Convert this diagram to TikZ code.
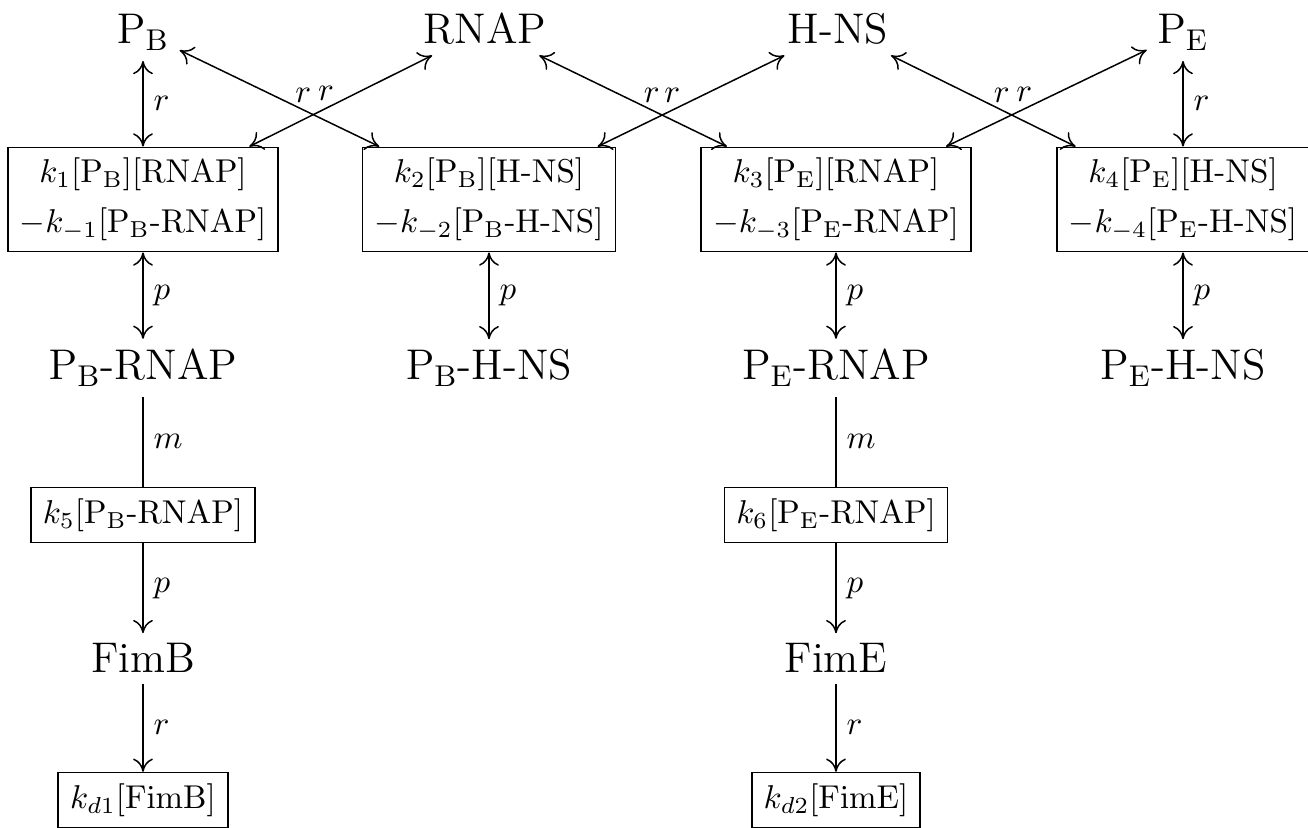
\RequirePackage{fix-cm}
\documentclass[tikz,border=0pt]{standalone}
\usetikzlibrary{arrows.meta}
\begin{document}
\begin{tikzpicture}[x=0.303pt,y=-0.303pt,
  >={Computer Modern Rightarrow[length=4pt,width=6pt]},
  big/.style={font=\fontsize{13}{15}\selectfont, inner sep=3pt, anchor=base},
  rate/.style={draw, line width=0.5pt, inner xsep=3.6pt, inner ysep=3.3pt, align=center},
  ratetwo/.style={rate, minimum height=30pt},
  conn/.style={line width=0.45pt},
  lab/.style={inner sep=3pt},
  xlab/.style={above, inner sep=2pt}
]
\useasboundingbox (0,0) rectangle (1308,828);

% top row
\node[big] (PB)   at (143,44)  {$\mathrm{P_B}$};
\node[big] (RNAP) at (485,44)  {RNAP};
\node[big] (HNS)  at (838,44)  {H-NS};
\node[big] (PE)   at (1183,44) {$\mathrm{P_E}$};

% rate boxes
\node[ratetwo] (b1) at (143,199.5) {$k_1[\mathrm{P_B}][\mathrm{RNAP}]$\\[3pt]$-k_{-1}[\mathrm{P_B}\mbox{-}\mathrm{RNAP}]$};
\node[ratetwo] (b2) at (489,199.5) {$k_2[\mathrm{P_B}][\mbox{H-NS}]$\\[3pt]$-k_{-2}[\mathrm{P_B}\mbox{-H-NS}]$};
\node[ratetwo] (b3) at (836,199.5) {$k_3[\mathrm{P_E}][\mathrm{RNAP}]$\\[3pt]$-k_{-3}[\mathrm{P_E}\mbox{-}\mathrm{RNAP}]$};
\node[ratetwo] (b4) at (1183,199.5) {$k_4[\mathrm{P_E}][\mbox{H-NS}]$\\[3pt]$-k_{-4}[\mathrm{P_E}\mbox{-H-NS}]$};

% complexes
\node[big] (PBR) at (143,380)  {$\mathrm{P_B}$-RNAP};
\node[big] (PBH) at (489,380)  {$\mathrm{P_B}$-H-NS};
\node[big] (PER) at (836,380)  {$\mathrm{P_E}$-RNAP};
\node[big] (PEH) at (1183,380) {$\mathrm{P_E}$-H-NS};

% production
\node[rate] (k5) at (143,515) {$k_5[\mathrm{P_B}\mbox{-}\mathrm{RNAP}]$};
\node[rate] (k6) at (836,515) {$k_6[\mathrm{P_E}\mbox{-}\mathrm{RNAP}]$};
\node[big] (FimB) at (143,673) {FimB};
\node[big] (FimE) at (836,673) {FimE};
\node[rate] (kd1) at (143,800) {$k_{d1}[\mathrm{FimB}]$};
\node[rate] (kd2) at (836,800) {$k_{d2}[\mathrm{FimE}]$};

% binding connectors
\draw[conn,<->] (PB) -- node[lab,right] {$r$} (b1);
\draw[conn,<->] (PB) -- node[xlab,pos=0.62] {$r$} (b2);
\draw[conn,<->] (RNAP) -- node[xlab,pos=0.58] {$r$} (b1);
\draw[conn,<->] (RNAP) -- node[xlab,pos=0.6] {$r$} (b3);
\draw[conn,<->] (HNS) -- node[xlab,pos=0.6] {$r$} (b2);
\draw[conn,<->] (HNS) -- node[xlab,pos=0.6] {$r$} (b4);
\draw[conn,<->] (PE) -- node[xlab,pos=0.61] {$r$} (b3);
\draw[conn,<->] (PE) -- node[lab,right] {$r$} (b4);

\draw[conn,<->] (b1) -- node[lab,right] {$p$} (PBR);
\draw[conn,<->] (b2) -- node[lab,right] {$p$} (PBH);
\draw[conn,<->] (b3) -- node[lab,right] {$p$} (PER);
\draw[conn,<->] (b4) -- node[lab,right] {$p$} (PEH);

% expression
\draw[conn] (PBR) -- node[lab,right] {$m$} (k5);
\draw[conn,->] (k5) -- node[lab,right] {$p$} (FimB);
\draw[conn,->] (FimB) -- node[lab,right] {$r$} (kd1);
\draw[conn] (PER) -- node[lab,right] {$m$} (k6);
\draw[conn,->] (k6) -- node[lab,right] {$p$} (FimE);
\draw[conn,->] (FimE) -- node[lab,right] {$r$} (kd2);
\end{tikzpicture}
\end{document}
